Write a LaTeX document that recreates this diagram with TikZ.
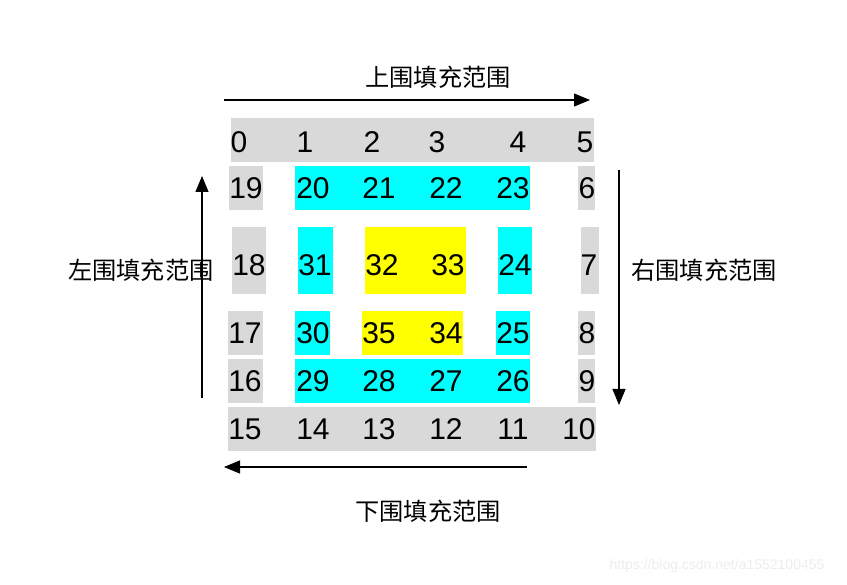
\documentclass[tikz,border=0pt]{standalone}
\usepackage{fontspec}
\setmainfont{Noto Sans CJK SC}
\newfontfamily\digitfont{Liberation Sans}
\usetikzlibrary{arrows.meta}
\definecolor{cgray}{HTML}{D9D9D9}
\definecolor{ccyan}{HTML}{00FFFF}
\definecolor{cyel}{HTML}{FFFF00}
\tikzset{
  num/.style={inner sep=0pt, font=\digitfont\fontsize{30}{30}\selectfont},
  lab/.style={inner sep=0pt, font=\fontsize{24.2}{26}\selectfont},
  arr/.style={line width=1.1pt, -{Triangle[length=16pt,width=13pt]}},
  wm/.style={inner sep=0pt, text=black!7, font=\digitfont\fontsize{14}{14}\selectfont}
}
\begin{document}
\begin{tikzpicture}[x=1pt,y=-1pt]
\useasboundingbox (0,0) rectangle (847,585);
% gray blocks
\fill[cgray] (231,118) rectangle (594,162);
\fill[cgray] (229,166) rectangle (263,210);
\fill[cgray] (578,166) rectangle (595,210);
\fill[cgray] (232,227) rectangle (266,294);
\fill[cgray] (581,227) rectangle (599,294);
\fill[cgray] (228,311) rectangle (263,355);
\fill[cgray] (578,311) rectangle (595,355);
\fill[cgray] (228,359) rectangle (263,403);
\fill[cgray] (578,359) rectangle (595,403);
\fill[cgray] (228,407) rectangle (596,451);
% cyan blocks
\fill[ccyan] (295,166) rectangle (530,210);
\fill[ccyan] (298,227) rectangle (333,294);
\fill[ccyan] (498,227) rectangle (532,294);
\fill[ccyan] (295,311) rectangle (330,355);
\fill[ccyan] (496,311) rectangle (530,355);
\fill[ccyan] (295,359) rectangle (530,403);
% yellow blocks
\fill[cyel] (365,227) rectangle (466,294);
\fill[cyel] (362,311) rectangle (463,355);
% numbers
\node[num] (n0) at (239,142) {0};
\node[num] (n1) at (305,142) {1};
\node[num] (n2) at (372,142) {2};
\node[num] (n3) at (437,142) {3};
\node[num] (n4) at (518,142) {4};
\node[num] (n5) at (585,142) {5};
\node[num] (n19) at (246,188) {19};
\node[num] (n20) at (313,188) {20};
\node[num] (n21) at (379,188) {21};
\node[num] (n22) at (446,188) {22};
\node[num] (n23) at (513,188) {23};
\node[num] (n6) at (587,188) {6};
\node[num] (n18) at (249,265) {18};
\node[num] (n31) at (315,265) {31};
\node[num] (n32) at (382,265) {32};
\node[num] (n33) at (448,265) {33};
\node[num] (n24) at (515,265) {24};
\node[num] (n7) at (589,265) {7};
\node[num] (n17) at (245,333) {17};
\node[num] (n30) at (313,333) {30};
\node[num] (n35) at (379,333) {35};
\node[num] (n34) at (446,333) {34};
\node[num] (n25) at (513,333) {25};
\node[num] (n8) at (587,333) {8};
\node[num] (n16) at (245,381) {16};
\node[num] (n29) at (313,381) {29};
\node[num] (n28) at (379,381) {28};
\node[num] (n27) at (446,381) {27};
\node[num] (n26) at (513,381) {26};
\node[num] (n9) at (587,381) {9};
\node[num] (n15) at (245,429) {15};
\node[num] (n14) at (313,429) {14};
\node[num] (n13) at (379,429) {13};
\node[num] (n12) at (446,429) {12};
\node[num] (n11) at (513,429) {11};
\node[num] (n10) at (579,429) {10};
% labels
\node[lab] (ltop) at (438,77) {上围填充范围};
\node[lab] (lleft) at (141,270) {左围填充范围};
\node[lab] (lright) at (704,270) {右围填充范围};
\node[lab] (lbot) at (428,511) {下围填充范围};
% arrows
\coordinate (ta) at (224,100); \coordinate (tb) at (590,100);
\coordinate (ra) at (619,170); \coordinate (rb) at (619,405);
\coordinate (ba) at (527,467); \coordinate (bb) at (224,467);
\coordinate (la) at (202,398); \coordinate (lb) at (202,176);
\draw[arr] (ta) -- (tb);
\draw[arr] (ra) -- (rb);
\draw[arr] (ba) -- (bb);
\draw[arr] (la) -- (lb);
% watermark
\node[wm] (wmk) at (717,566) {https://blog.csdn.net/a1552100455};
\end{tikzpicture}
\end{document}
